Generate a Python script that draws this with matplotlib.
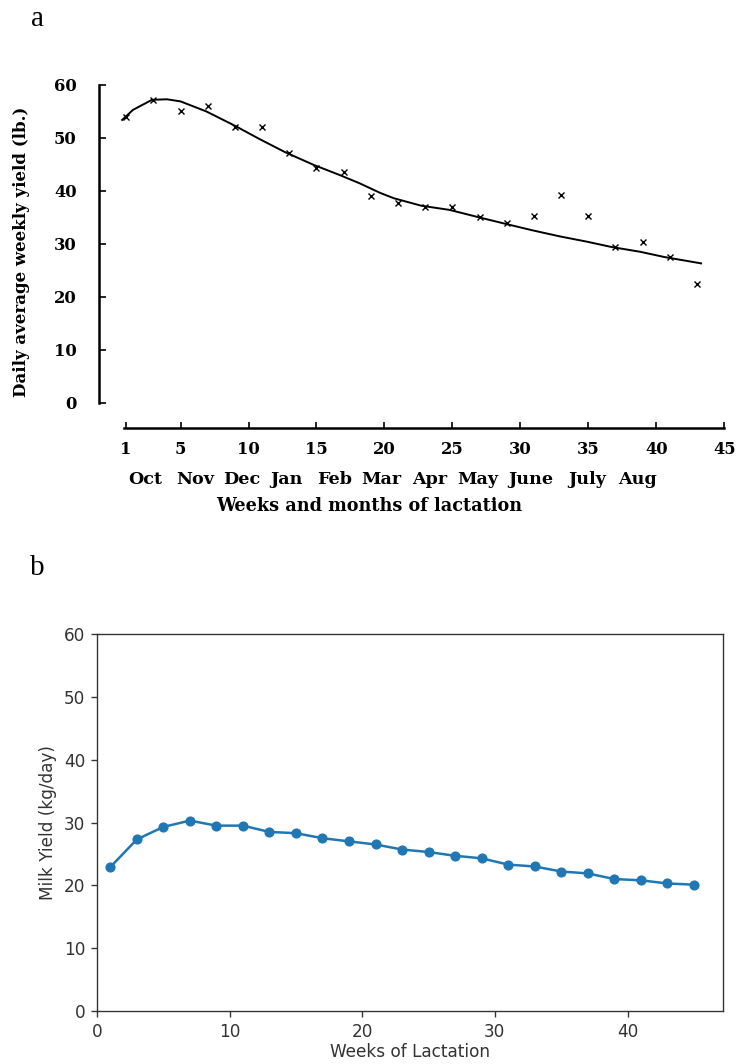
import matplotlib
matplotlib.use("Agg")
import matplotlib.pyplot as plt

# ---------------- Panel a data (historic lactation curve) ----------------
weeks_a = [1, 3, 5, 7, 9, 11, 13, 15, 17, 19, 21, 23, 25, 27, 29, 31, 33, 35, 37, 39, 41, 43]
yield_a = [54.0, 57.2, 55.1, 56.0, 52.1, 52.1, 47.1, 44.3, 43.5, 39.0, 37.7, 37.0,
           37.0, 35.0, 34.0, 35.3, 39.2, 35.3, 29.3, 30.4, 27.5, 22.4]
curve_weeks = [0.7, 1.5, 2.9, 4.0, 5.0, 6.9, 9.0, 10.8, 12.7, 14.8, 16.7, 18.2, 19.7,
               20.7, 22.7, 24.8, 26.8, 28.7, 30.8, 32.9, 34.9, 36.7, 38.8, 40.6, 43.3]
curve_yield = [53.4, 55.3, 57.2, 57.3, 56.9, 55.0, 52.3, 49.8, 47.3, 44.9, 43.0, 41.4, 39.6,
               38.6, 37.2, 36.4, 35.1, 33.9, 32.6, 31.4, 30.4, 29.4, 28.5, 27.5, 26.3]
xticks_a = [1, 5, 10, 15, 20, 25, 30, 35, 40, 45]
yticks_a = [0, 10, 20, 30, 40, 50, 60]
months = ["Oct", "Nov", "Dec", "Jan", "Feb", "Mar", "Apr", "May", "June", "July", "Aug"]
month_pos = [2.4, 6.1, 9.5, 12.8, 16.3, 19.75, 23.3, 26.9, 30.8, 34.9, 38.6]

# ---------------- Panel b data (model lactation curve) ----------------
weeks_b = [1, 3, 5, 7, 9, 11, 13, 15, 17, 19, 21, 23, 25, 27, 29, 31, 33, 35, 37, 39, 41, 43, 45]
yield_b = [22.9, 27.3, 29.3, 30.3, 29.5, 29.5, 28.5, 28.3, 27.5, 27.0, 26.5, 25.7,
           25.3, 24.7, 24.3, 23.3, 23.0, 22.2, 21.9, 21.0, 20.8, 20.3, 20.1]

W, H = 736, 1064
fig = plt.figure(figsize=(W / 100, H / 100), dpi=100)

serif = "DejaVu Serif"

# ---------------- Panel a ----------------
axa = fig.add_axes([99 / W, 1 - 428 / H, (731 - 99) / W, (428 - 79.7) / H])
axa.plot(curve_weeks, curve_yield, color="black", lw=1.4)
axa.plot(weeks_a, yield_a, linestyle="none", marker="x", color="black", ms=5, mew=1.0)
axa.set_xlim(-1, 45.5)
axa.set_ylim(-4.8, 61)
for s in ["top", "right"]:
    axa.spines[s].set_visible(False)
axa.spines["left"].set_bounds(0, 60)
axa.spines["bottom"].set_bounds(0.85, 45)
axa.spines["left"].set_linewidth(1.8)
axa.spines["bottom"].set_linewidth(1.8)
axa.set_xticks(xticks_a)
axa.set_yticks(yticks_a)
axa.tick_params(axis="y", direction="in", length=5, width=1.2, pad=16)
axa.tick_params(axis="x", direction="in", length=4, width=1.2, pad=9)
for lab in axa.get_xticklabels() + axa.get_yticklabels():
    lab.set_fontfamily(serif)
    lab.set_fontsize(11.8)
    lab.set_fontweight("bold")
month_y = -(479 - 428) / (428 - 79.7)
for m, p in zip(months, month_pos):
    axa.annotate(m, xy=(p, month_y), xycoords=("data", "axes fraction"),
                 ha="center", va="center", fontsize=12.6, family=serif, fontweight="bold")
fig.text(369.5 / W, 1 - 506 / H, "Weeks and months of lactation", ha="center", va="center",
         fontsize=12.7, family=serif, fontweight="bold")
fig.text(22 / W, 1 - 251.5 / H, "Daily average weekly yield (lb.)", ha="center", va="center",
         rotation=90, fontsize=12, family=serif, fontweight="bold")
fig.text(37 / W, 1 - 19 / H, "a", ha="center", va="center", fontsize=21, family="Liberation Serif")

# ---------------- Panel b ----------------
sc = 1.22
txt_c = "#333333"
axb = fig.add_axes([97 / W, 1 - 1011 / H, (723 - 97) / W, (1011 - 634) / H])
axb.plot(weeks_b, yield_b, color="#1f77b4", lw=1.8, marker="o", ms=6.3)
axb.set_xlim(0, 47.2)
axb.set_ylim(0, 60)
axb.set_xlabel("Weeks of Lactation", fontsize=10 * sc, color=txt_c, labelpad=1.5)
axb.set_ylabel("Milk Yield (kg/day)", fontsize=10 * sc, color=txt_c, labelpad=4 * sc)
axb.tick_params(labelsize=10 * sc, length=3.5 * sc, width=0.8 * sc, pad=3.5 * sc,
                color="#333333", labelcolor=txt_c)
for s in axb.spines.values():
    s.set_linewidth(0.8 * sc)
    s.set_edgecolor("#333333")
fig.text(37 / W, 1 - 568 / H, "b", ha="center", va="center", fontsize=21, family="Liberation Serif")

fig.savefig("out.png", dpi=100)
